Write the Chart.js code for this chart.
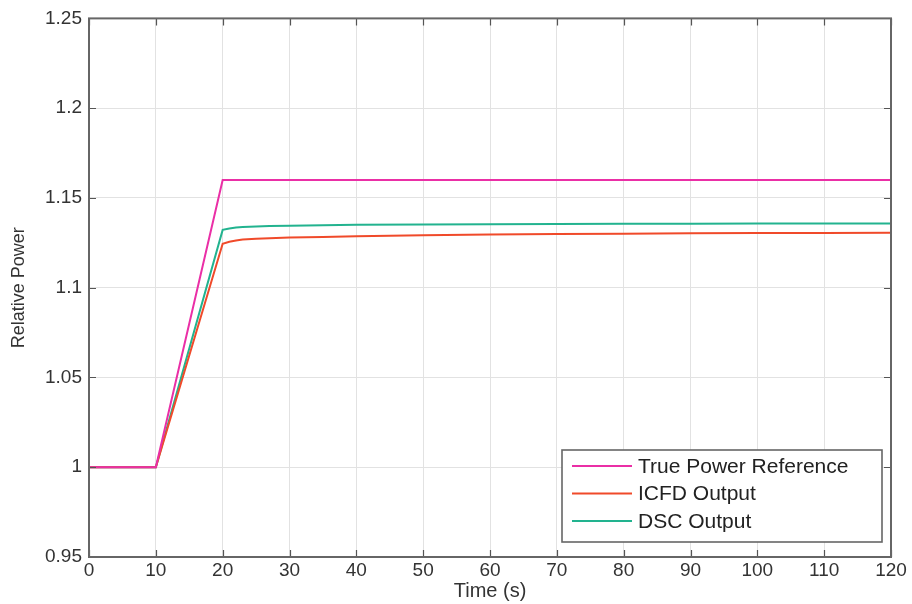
<!DOCTYPE html>
<html>
<head>
<meta charset="utf-8">
<script src="https://cdn.jsdelivr.net/npm/chart.js@4/dist/chart.umd.min.js"></script>
<style>
html,body{margin:0;padding:0;background:#fff;}
#wrap{width:912px;height:604px;}
</style>
</head>
<body>
<div id="wrap"><canvas id="c" width="912" height="604"></canvas></div>
<script>
// ---- data ----
const time = [0, 10, 20, 21, 22, 23, 25, 27, 30, 35, 40, 50, 60, 70, 80, 90, 100, 110, 120];
const truePower = [1, 1, 1.16, 1.16, 1.16, 1.16, 1.16, 1.16, 1.16, 1.16, 1.16, 1.16, 1.16, 1.16, 1.16, 1.16, 1.16, 1.16, 1.16];
const icfdOutput = [1, 1, 1.1245, 1.1256, 1.1263, 1.1268, 1.1273, 1.1276, 1.1279, 1.1283, 1.1287, 1.1292, 1.1296, 1.1299, 1.1301, 1.1303, 1.1304, 1.1305, 1.1306];
const dscOutput = [1, 1, 1.1322, 1.1330, 1.1335, 1.1338, 1.1341, 1.1343, 1.1345, 1.1348, 1.1350, 1.1352, 1.1354, 1.1355, 1.1356, 1.1356, 1.1357, 1.1357, 1.1357];
const seriesNames = ['True Power Reference', 'ICFD Output', 'DSC Output'];
const xTicks = [0, 10, 20, 30, 40, 50, 60, 70, 80, 90, 100, 110, 120];
const yTicks = [0.95, 1, 1.05, 1.1, 1.15, 1.2, 1.25];

const colors = ['#ea2fa6', '#f04a2a', '#22b38f'];
const FONT = "'Liberation Sans', Arial, Helvetica, sans-serif";

function pts(ys) { return time.map((t, i) => ({ x: t, y: ys[i] })); }

const inwardTicks = {
  id: 'inwardTicks',
  afterDatasetsDraw(chart) {
    const { ctx, chartArea: a, scales } = chart;
    ctx.save();
    ctx.strokeStyle = '#555';
    ctx.lineWidth = 1.2;
    const L = 7;
    xTicks.forEach(v => {
      const px = Math.round(scales.x.getPixelForValue(v)) + 0.5;
      ctx.beginPath();
      ctx.moveTo(px, a.bottom); ctx.lineTo(px, a.bottom - L);
      ctx.moveTo(px, a.top); ctx.lineTo(px, a.top + L);
      ctx.stroke();
    });
    yTicks.forEach(v => {
      const py = Math.round(scales.y.getPixelForValue(v)) + 0.5;
      ctx.beginPath();
      ctx.moveTo(a.left, py); ctx.lineTo(a.left + L, py);
      ctx.moveTo(a.right, py); ctx.lineTo(a.right - L, py);
      ctx.stroke();
    });
    ctx.strokeStyle = '#666';
    ctx.lineWidth = 2;
    ctx.strokeRect(a.left, a.top, a.right - a.left, a.bottom - a.top);
    ctx.restore();
  }
};

const boxLegend = {
  id: 'boxLegend',
  afterDraw(chart) {
    const { ctx } = chart;
    const x0 = 562, y0 = 450, w = 320, h = 92;
    ctx.save();
    ctx.fillStyle = '#fff';
    ctx.fillRect(x0, y0, w, h);
    ctx.strokeStyle = '#666';
    ctx.lineWidth = 1.6;
    ctx.strokeRect(x0, y0, w, h);
    ctx.font = '21px ' + FONT;
    ctx.textBaseline = 'middle';
    ctx.textAlign = 'left';
    chart.data.datasets.forEach((ds, i) => {
      const y = y0 + 16 + i * 27.5;
      ctx.strokeStyle = ds.borderColor;
      ctx.lineWidth = 2;
      ctx.beginPath();
      ctx.moveTo(x0 + 10, y); ctx.lineTo(x0 + 70, y);
      ctx.stroke();
      ctx.fillStyle = '#222';
      ctx.fillText(ds.label, x0 + 76, y + 1);
    });
    ctx.restore();
  }
};

new Chart(document.getElementById('c'), {
  type: 'line',
  data: {
    datasets: [
      { label: seriesNames[0], data: pts(truePower), borderColor: colors[0] },
      { label: seriesNames[1], data: pts(icfdOutput), borderColor: colors[1] },
      { label: seriesNames[2], data: pts(dscOutput), borderColor: colors[2] }
    ].map(d => Object.assign(d, { borderWidth: 2, pointRadius: 0, tension: 0, fill: false }))
  },
  options: {
    responsive: false,
    animation: false,
    layout: { padding: { top: 17, right: 21, left: 0, bottom: 0 } },
    plugins: { legend: { display: false }, tooltip: { enabled: false } },
    scales: {
      x: {
        type: 'linear', min: 0, max: 120,
        afterBuildTicks: s => { s.ticks = xTicks.map(v => ({ value: v })); },
        afterFit: s => { s.height = 47; },
        grid: { color: '#e2e2e2', lineWidth: 1, drawTicks: false },
        border: { display: false },
        ticks: { padding: 2, color: '#333', font: { size: 19, family: FONT }, maxRotation: 0, autoSkip: false },
        title: { display: true, text: 'Time (s)', color: '#333', font: { size: 20, family: FONT }, padding: { top: 0, bottom: 1 } }
      },
      y: {
        min: 0.95, max: 1.25,
        afterBuildTicks: s => { s.ticks = yTicks.map(v => ({ value: v })); },
        afterFit: s => { s.width = 89; },
        grid: { color: '#e2e2e2', lineWidth: 1, drawTicks: false },
        border: { display: false },
        ticks: { padding: 7, color: '#333', font: { size: 19, family: FONT }, callback: v => String(parseFloat(Number(v).toFixed(2))) },
        title: { display: true, text: 'Relative Power', color: '#333', font: { size: 18, family: FONT }, padding: { top: 8, bottom: 0 } }
      }
    }
  },
  plugins: [inwardTicks, boxLegend]
});
</script>
</body>
</html>
